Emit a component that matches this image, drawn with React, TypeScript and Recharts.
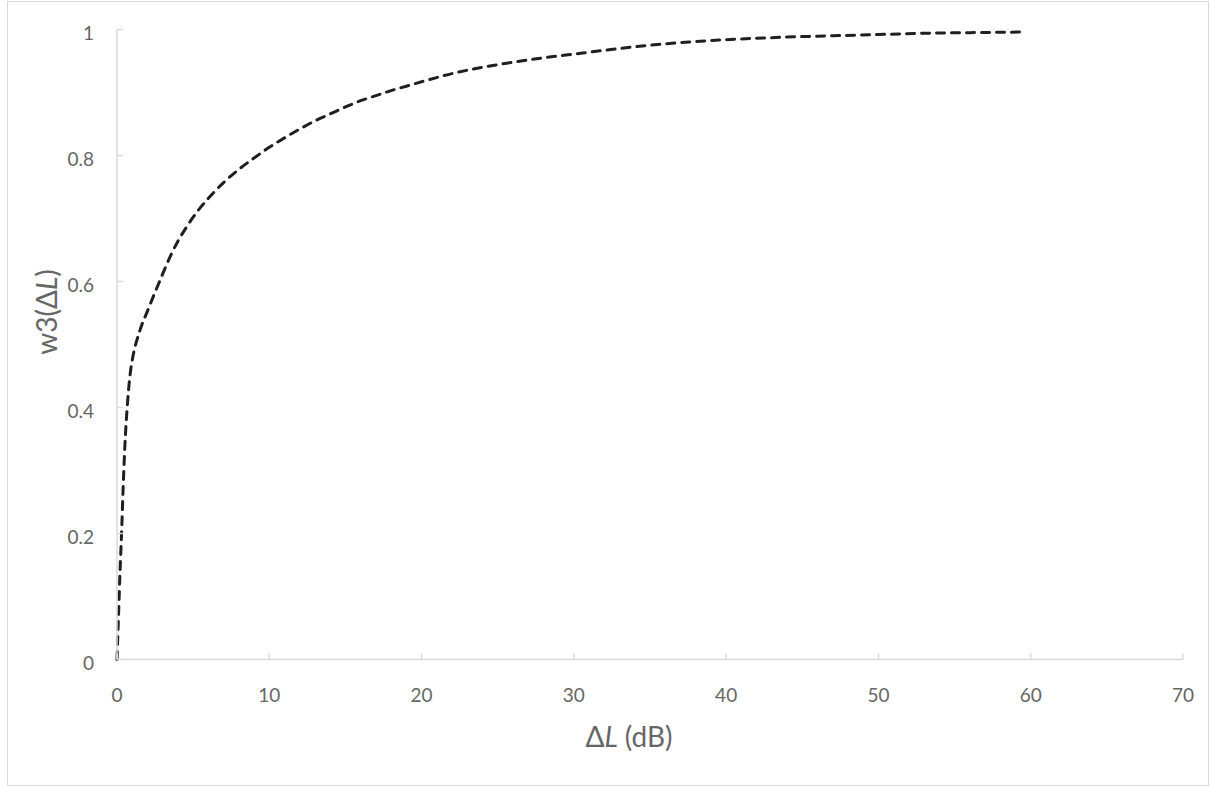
import React from "react"
import { Label, Line, LineChart, XAxis, YAxis } from "recharts"

// ΔL (dB) and w3(ΔL)
const dL = [0, 0.1, 0.2, 0.3, 0.4, 0.5, 0.7, 0.9, 1.0, 1.5, 2, 2.5, 3, 3.5, 4, 4.5, 5, 5.5, 6, 7, 8, 9, 10, 11, 12, 13, 14, 15, 16, 17, 18, 19, 20, 22, 24, 26, 28, 30, 32, 35, 38, 41, 44, 47, 50, 53, 56, 59.5]
const w3 = [0, 0.07, 0.14, 0.2, 0.27, 0.33, 0.41, 0.46, 0.475, 0.522, 0.553, 0.583, 0.612, 0.64, 0.664, 0.684, 0.702, 0.718, 0.732, 0.757, 0.778, 0.796, 0.813, 0.828, 0.842, 0.855, 0.866, 0.877, 0.887, 0.895, 0.903, 0.91, 0.917, 0.93, 0.94, 0.948, 0.955, 0.961, 0.967, 0.975, 0.981, 0.985, 0.988, 0.99, 0.992, 0.994, 0.995, 0.996]

const xTicks = [0, 10, 20, 30, 40, 50, 60, 70]
const yTicks = [0, 0.2, 0.4, 0.6, 0.8, 1]

const data = dL.map((x, i) => ({ dL: x, w3: w3[i] }))

const grey = "#666666"
const axisGrey = "#d9d9d9"
const font = "Lato, 'Open Sans', sans-serif"

const XTick = ({ x, y, payload }: any) => (
    <text x={x} y={y} dy="0.71em" textAnchor="middle" fill={grey} fontSize={19} fontFamily={font}>
        {payload.value}
    </text>
)

const YTick = ({ x, y, payload }: any) => (
    <text x={x} y={y + 3} textAnchor="end" dominantBaseline="central" fill={grey} fontSize={19} fontFamily={font}>
        {payload.value}
    </text>
)

const App = () => {
    return (
        <div style={{ position: "absolute", left: 0, top: 0, width: 1210, height: 788, background: "#fff" }}>
            <div style={{ position: "absolute", left: 7, top: 1, width: 1202, height: 785, border: `1px solid ${axisGrey}`, boxSizing: "border-box" }} />
            <LineChart width={1210} height={788} data={data}
                margin={{ top: 29.5, right: 27, bottom: 98.5, left: 57 }}>
                <XAxis dataKey="dL" type="number" domain={[0, 70]} ticks={xTicks} interval={0}
                    height={30} tickSize={-6} tickMargin={35}
                    axisLine={{ stroke: axisGrey, strokeWidth: 1.5 }} tickLine={{ stroke: axisGrey, strokeWidth: 1.5 }}
                    tick={<XTick />}>
                    <Label content={() => (
                        <text x={629} y={747} textAnchor="middle" fill={grey} fontSize={28} fontFamily={font}>
                            Δ<tspan fontStyle="italic">L</tspan> (dB)
                        </text>
                    )} />
                </XAxis>
                <YAxis type="number" domain={[0, 1]} ticks={yTicks} interval={0}
                    width={60} tickSize={-6} tickMargin={29}
                    axisLine={{ stroke: axisGrey, strokeWidth: 1.5 }} tickLine={{ stroke: axisGrey, strokeWidth: 1.5 }}
                    tick={<YTick />}>
                    <Label content={() => (
                        <text x={46} y={312} transform="rotate(-90, 46, 312)" textAnchor="middle" dominantBaseline="central"
                            fill={grey} fontSize={28} fontFamily={font}>
                            w3(Δ<tspan fontStyle="italic">L</tspan>)
                        </text>
                    )} />
                </YAxis>
                <Line dataKey="w3" type="monotone" stroke="#1f1f1f" strokeWidth={3}
                    strokeDasharray="8 7" strokeLinecap="round" dot={false} isAnimationActive={false} />
            </LineChart>
        </div>
    )
}
export default App
